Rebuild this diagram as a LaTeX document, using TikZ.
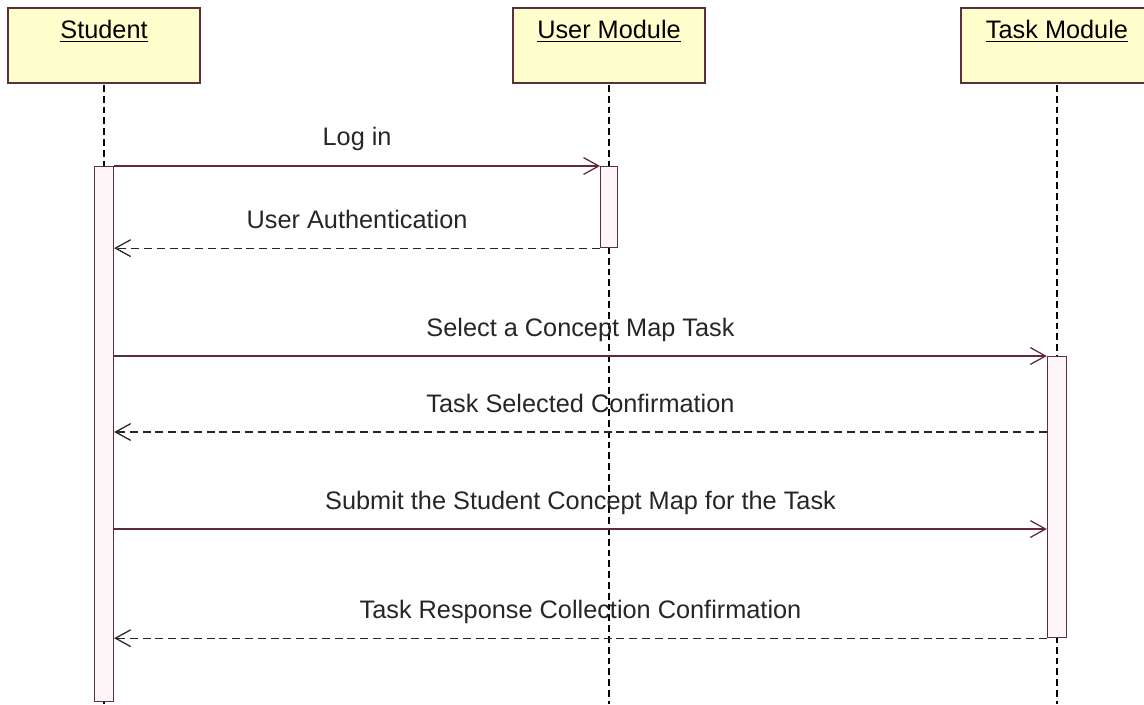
\documentclass[tikz,border=0pt]{standalone}
\usepackage{fontspec}
\setmainfont{Liberation Sans}
\usepackage{xcolor}
\usetikzlibrary{arrows.meta}
\usetikzlibrary{positioning, calc}

\definecolor{umlline}{RGB}{96,40,66}
\definecolor{umlbox}{RGB}{255,255,206}
\definecolor{umlframe}{RGB}{92,48,58}
\definecolor{umlbar}{RGB}{255,246,250}

\tikzset{
    headbox/.style={rectangle, draw=umlframe, fill=umlbox, line width=1.1pt,
        minimum width=4.8cm, inner xsep=0pt, inner ysep=0pt,
        text height=0.78cm, text depth=1.095cm, anchor=north},
    actbar/.style={rectangle, draw=umlframe, fill=umlbar, line width=0.8pt,
        minimum width=0.48cm, inner sep=0pt, anchor=north},
    lifeline/.style={black, line width=1pt, dash pattern=on 0.17cm off 0.1cm},
    call/.style={umlline, line width=0.9pt, -{Straight Barb[length=0.38cm, width=0.42cm]}},
    reply/.style={black!85, line width=0.9pt, dash pattern=on 0.2cm off 0.12cm,
        -{Straight Barb[length=0.38cm, width=0.42cm, sep=0pt]}},
    msgtext/.style={midway, anchor=base, yshift=0.5cm, text=black!85}
}

\begin{document}
\begin{tikzpicture}[x=0.025cm, y=-0.025cm, font=\fontsize{18}{22}\selectfont]
    \useasboundingbox (0,0) rectangle (1144,704);

    % objects
    \node[headbox] (student) at (104,7) {\underline{Student}};
    \node[headbox] (user) at (609,7) {\underline{User Module}};
    \node[headbox] (task) at (1057,7) {\underline{Task Module}};

    % lifelines
    \draw[lifeline] (student.south |- 0,85) -- (student.south |- 0,704);
    \draw[lifeline] (user.south |- 0,85) -- (user.south |- 0,704);
    \draw[lifeline] (task.south |- 0,85) -- (task.south |- 0,704);

    % activations
    \node[actbar, minimum height=13.375cm] (sbar) at (104,166) {};
    \node[actbar, minimum width=0.42cm, minimum height=2.025cm] (ubar) at (609,166) {};
    \node[actbar, minimum height=7.025cm] (tbar) at (1057,356) {};

    % messages
    \draw[call] (sbar.east |- ubar.north) -- (ubar.north west)
        node[msgtext] {Log in};
    \draw[reply] (ubar.south west) -- (sbar.east |- ubar.south)
        node[msgtext] {User Authentication};
    \draw[call] (sbar.east |- tbar.north) -- (tbar.north west)
        node[msgtext] {Select a Concept Map Task};
    \draw[reply] (tbar.west |- 0,432) -- (sbar.east |- 0,432)
        node[msgtext] {Task Selected Confirmation};
    \draw[call] (sbar.east |- 0,529) -- (tbar.west |- 0,529)
        node[msgtext] {Submit the Student Concept Map for the Task};
    \draw[reply] (tbar.south west) -- (sbar.east |- tbar.south)
        node[msgtext] {Task Response Collection Confirmation};
\end{tikzpicture}
\end{document}
